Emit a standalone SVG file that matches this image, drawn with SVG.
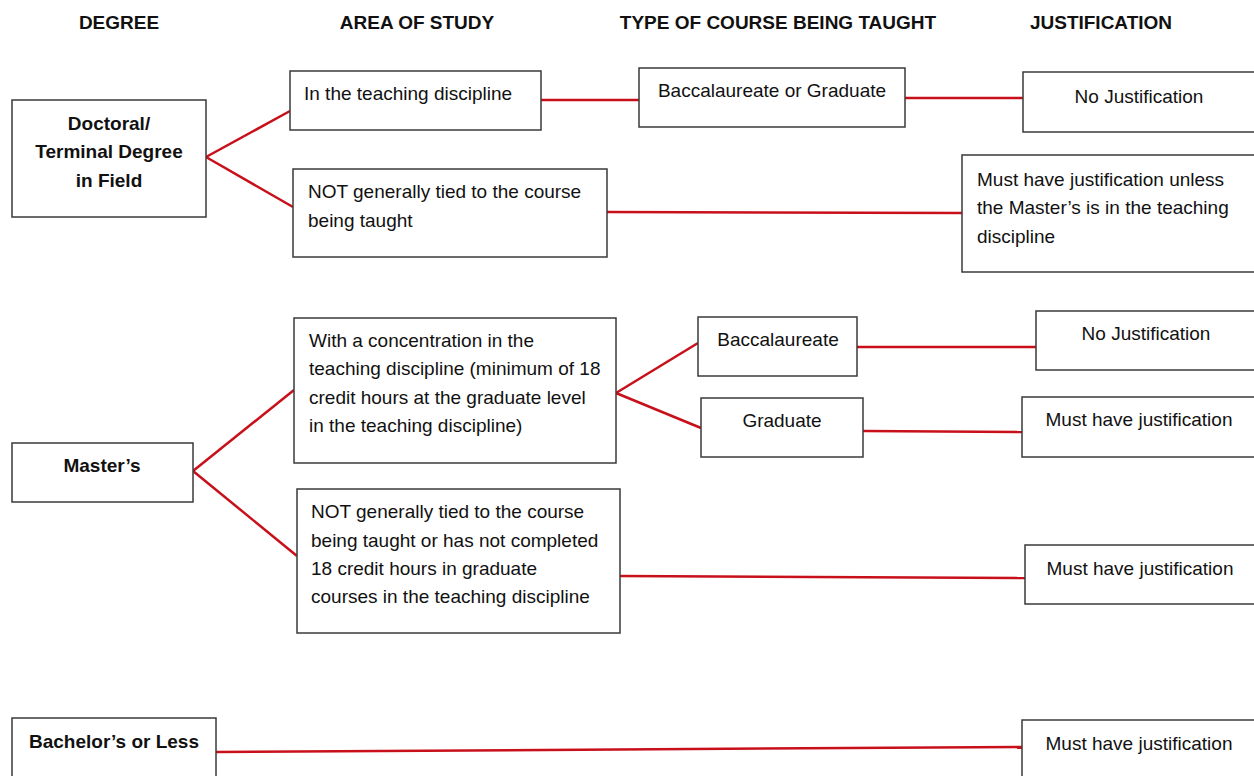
<svg xmlns="http://www.w3.org/2000/svg" width="1254" height="776" viewBox="0 0 1254 776">
<style>
.box{fill:#fff;stroke:#3a3a3a;stroke-width:1.5}
.t{font-family:"Liberation Sans",Arial,sans-serif;font-size:19px;fill:#111}
.b{font-weight:bold}
.c{text-anchor:middle}
.h{font-family:"Liberation Sans",Arial,sans-serif;font-size:19px;font-weight:bold;fill:#111;text-anchor:middle}
.ln{stroke:#c8101a;stroke-width:2.5;fill:none}
</style>
<rect width="1254" height="776" fill="#fff"/>
<g id="headers">
<text class="h" x="119" y="29">DEGREE</text>
<text class="h" x="417" y="29">AREA OF STUDY</text>
<text class="h" x="778" y="29">TYPE OF COURSE BEING TAUGHT</text>
<text class="h" x="1101" y="29">JUSTIFICATION</text>
</g>
<g id="connectors">
<line class="ln" x1="206" y1="157" x2="290" y2="111"/>
<line class="ln" x1="206" y1="157" x2="293" y2="207"/>
<line class="ln" x1="541" y1="100" x2="639" y2="100"/>
<line class="ln" x1="905" y1="98" x2="1023" y2="98"/>
<line class="ln" x1="607" y1="212" x2="962" y2="213"/>
<line class="ln" x1="193" y1="471" x2="294" y2="390"/>
<line class="ln" x1="193" y1="471" x2="297" y2="556"/>
<line class="ln" x1="616" y1="393" x2="698" y2="343"/>
<line class="ln" x1="616" y1="393" x2="701" y2="428"/>
<line class="ln" x1="857" y1="347" x2="1036" y2="347"/>
<line class="ln" x1="863" y1="431" x2="1022" y2="432"/>
<line class="ln" x1="620" y1="576" x2="1025" y2="578"/>
<line class="ln" x1="216" y1="752" x2="1022" y2="747"/>
</g>
<g id="doctoral">
<rect class="box" x="12" y="100" width="194" height="117"/>
<text class="t b c" x="109" y="130">Doctoral/</text>
<text class="t b c" x="109" y="158">Terminal Degree</text>
<text class="t b c" x="109" y="187">in Field</text>
</g>
<g id="doc-in-discipline">
<rect class="box" x="290" y="71" width="251" height="59"/>
<text class="t" x="304" y="100">In the teaching discipline</text>
</g>
<g id="doc-not-tied">
<rect class="box" x="293" y="169" width="314" height="88"/>
<text class="t" x="308" y="198">NOT generally tied to the course</text>
<text class="t" x="308" y="227">being taught</text>
</g>
<g id="doc-bacc-grad">
<rect class="box" x="639" y="68" width="266" height="59"/>
<text class="t c" x="772" y="97">Baccalaureate or Graduate</text>
</g>
<g id="doc-no-just">
<rect class="box" x="1023" y="72" width="240" height="60"/>
<text class="t c" x="1139" y="103">No Justification</text>
</g>
<g id="doc-must-unless">
<rect class="box" x="962" y="155" width="300" height="117"/>
<text class="t" x="977" y="186">Must have justification unless</text>
<text class="t" x="977" y="214">the Master’s is in the teaching</text>
<text class="t" x="977" y="243">discipline</text>
</g>
<g id="masters">
<rect class="box" x="12" y="443" width="181" height="59"/>
<text class="t b c" x="102" y="472">Master’s</text>
</g>
<g id="ms-concentration">
<rect class="box" x="294" y="318" width="322" height="145"/>
<text class="t" x="309" y="347">With a concentration in the</text>
<text class="t" x="309" y="375">teaching discipline (minimum of 18</text>
<text class="t" x="309" y="404">credit hours at the graduate level</text>
<text class="t" x="309" y="432">in the teaching discipline)</text>
</g>
<g id="ms-not-tied">
<rect class="box" x="297" y="489" width="323" height="144"/>
<text class="t" x="311" y="518">NOT generally tied to the course</text>
<text class="t" x="311" y="547">being taught or has not completed</text>
<text class="t" x="311" y="575">18 credit hours in graduate</text>
<text class="t" x="311" y="603">courses in the teaching discipline</text>
</g>
<g id="ms-bacc">
<rect class="box" x="698" y="317" width="159" height="59"/>
<text class="t c" x="778" y="346">Baccalaureate</text>
</g>
<g id="ms-grad">
<rect class="box" x="701" y="398" width="162" height="59"/>
<text class="t c" x="782" y="427">Graduate</text>
</g>
<g id="ms-no-just">
<rect class="box" x="1036" y="311" width="230" height="59"/>
<text class="t c" x="1146" y="340">No Justification</text>
</g>
<g id="ms-grad-must">
<rect class="box" x="1022" y="397" width="240" height="60"/>
<text class="t c" x="1139" y="426">Must have justification</text>
</g>
<g id="ms-not-must">
<rect class="box" x="1025" y="545" width="240" height="59"/>
<text class="t c" x="1140" y="575">Must have justification</text>
</g>
<g id="bachelors">
<rect class="box" x="12" y="718" width="204" height="70"/>
<text class="t b c" x="114" y="748">Bachelor’s or Less</text>
</g>
<g id="bach-must">
<rect class="box" x="1022" y="720" width="240" height="70"/>
<text class="t c" x="1139" y="750">Must have justification</text>
</g>
</svg>
